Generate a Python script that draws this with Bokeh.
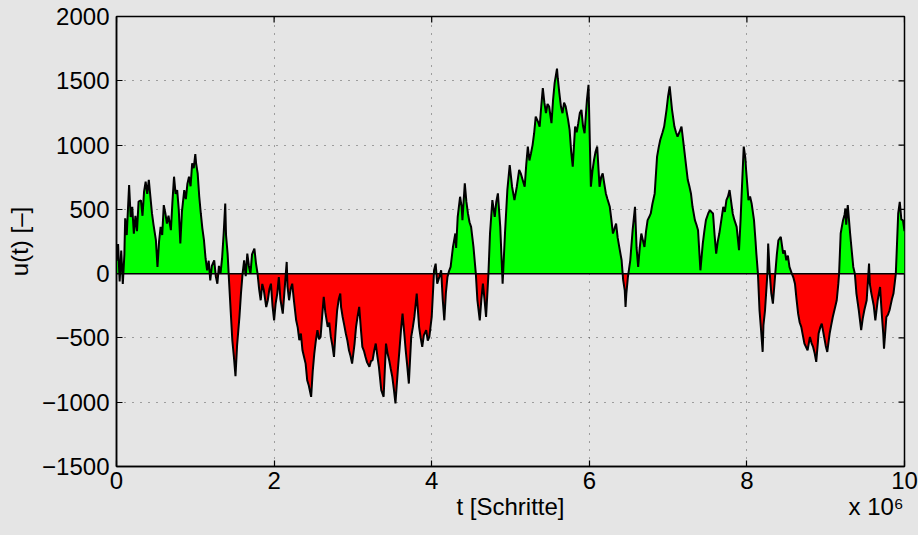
import numpy as np
from bokeh.plotting import figure
from bokeh.models import Range1d, FixedTicker, Span, LinearAxis
from bokeh.embed import file_html
from bokeh.resources import INLINE

# time in steps (x 10^6)
t_mio = [
    0.00, 0.02, 0.04, 0.06, 0.08, 0.10, 0.11, 0.13, 0.16, 0.18, 0.20, 0.22, 0.24, 0.26, 0.28, 0.31,
    0.33, 0.35, 0.37, 0.39, 0.41, 0.43, 0.45, 0.47, 0.50, 0.52, 0.54, 0.56, 0.58, 0.60, 0.62, 0.64,
    0.66, 0.69, 0.71, 0.73, 0.75, 0.77, 0.79, 0.81, 0.83, 0.86, 0.88, 0.90, 0.92, 0.94, 0.96, 0.98,
    1.00, 1.01, 1.03, 1.05, 1.07, 1.09, 1.11, 1.13, 1.15, 1.17, 1.19, 1.21, 1.24, 1.26, 1.28, 1.30,
    1.32, 1.34, 1.36, 1.38, 1.39, 1.41, 1.43, 1.45, 1.47, 1.49, 1.51, 1.53, 1.56, 1.58, 1.60, 1.62,
    1.64, 1.66, 1.68, 1.70, 1.72, 1.75, 1.77, 1.79, 1.81, 1.83, 1.85, 1.87, 1.90, 1.92, 1.94, 1.96,
    1.98, 2.00, 2.02, 2.04, 2.06, 2.08, 2.11, 2.13, 2.16, 2.17, 2.19, 2.21, 2.23, 2.25, 2.28, 2.30,
    2.32, 2.34, 2.36, 2.38, 2.40, 2.42, 2.44, 2.47, 2.49, 2.51, 2.53, 2.55, 2.57, 2.59, 2.61, 2.63,
    2.65, 2.68, 2.70, 2.72, 2.74, 2.76, 2.78, 2.80, 2.82, 2.84, 2.85, 2.87, 2.89, 2.91, 2.93, 2.95,
    2.97, 2.99, 3.02, 3.04, 3.06, 3.08, 3.10, 3.12, 3.14, 3.16, 3.18, 3.21, 3.23, 3.25, 3.27, 3.29,
    3.31, 3.33, 3.36, 3.39, 3.42, 3.44, 3.46, 3.48, 3.50, 3.52, 3.54, 3.57, 3.59, 3.61, 3.63, 3.65,
    3.67, 3.69, 3.71, 3.74, 3.76, 3.78, 3.81, 3.84, 3.86, 3.88, 3.90, 3.93, 3.95, 3.97, 4.00, 4.02,
    4.03, 4.05, 4.07, 4.10, 4.12, 4.14, 4.16, 4.18, 4.20, 4.22, 4.24, 4.27, 4.30, 4.31, 4.33, 4.36,
    4.38, 4.39, 4.42, 4.44, 4.46, 4.48, 4.50, 4.53, 4.56, 4.58, 4.61, 4.63, 4.65, 4.67, 4.69, 4.72,
    4.74, 4.77, 4.80, 4.82, 4.84, 4.87, 4.90, 4.93, 4.96, 4.99, 5.02, 5.05, 5.08, 5.11, 5.13, 5.18,
    5.20, 5.22, 5.24, 5.26, 5.28, 5.30, 5.32, 5.35, 5.37, 5.39, 5.41, 5.43, 5.45, 5.47, 5.49, 5.52,
    5.54, 5.56, 5.59, 5.60, 5.62, 5.64, 5.66, 5.68, 5.70, 5.73, 5.75, 5.77, 5.79, 5.82, 5.84, 5.86,
    5.88, 5.90, 5.92, 5.94, 5.97, 5.99, 6.02, 6.04, 6.06, 6.08, 6.10, 6.13, 6.15, 6.17, 6.19, 6.21,
    6.23, 6.26, 6.28, 6.30, 6.32, 6.34, 6.36, 6.38, 6.41, 6.43, 6.45, 6.46, 6.47, 6.49, 6.52, 6.55,
    6.58, 6.60, 6.62, 6.64, 6.66, 6.68, 6.70, 6.72, 6.74, 6.76, 6.78, 6.80, 6.83, 6.86, 6.88, 6.90,
    6.93, 6.95, 6.98, 7.00, 7.02, 7.05, 7.08, 7.10, 7.12, 7.15, 7.17, 7.19, 7.21, 7.23, 7.25, 7.27,
    7.29, 7.31, 7.34, 7.36, 7.38, 7.41, 7.44, 7.46, 7.48, 7.51, 7.53, 7.55, 7.57, 7.59, 7.61, 7.63,
    7.65, 7.70, 7.72, 7.74, 7.76, 7.78, 7.80, 7.82, 7.84, 7.87, 7.90, 7.92, 7.93, 7.95, 7.96, 7.98,
    7.99, 8.01, 8.02, 8.04, 8.06, 8.09, 8.11, 8.12, 8.14, 8.16, 8.18, 8.20, 8.21, 8.23, 8.26, 8.27,
    8.29, 8.31, 8.33, 8.36, 8.38, 8.40, 8.43, 8.46, 8.48, 8.50, 8.52, 8.54, 8.57, 8.59, 8.61, 8.63,
    8.65, 8.67, 8.69, 8.71, 8.73, 8.77, 8.80, 8.82, 8.84, 8.86, 8.88, 8.91, 8.93, 8.95, 8.98, 9.00,
    9.02, 9.05, 9.07, 9.09, 9.12, 9.14, 9.16, 9.17, 9.19, 9.22, 9.24, 9.25, 9.26, 9.28, 9.31, 9.33,
    9.35, 9.37, 9.39, 9.42, 9.45, 9.47, 9.49, 9.52, 9.55, 9.56, 9.58, 9.61, 9.63, 9.66, 9.69, 9.71,
    9.73, 9.74, 9.77, 9.79, 9.81, 9.84, 9.86, 9.89, 9.92, 9.94, 9.96, 9.98, 10.00,
]

# u(t) values
u_vals = [
    100, 230, -60, 180, -80, 150, 430, 300, 690, 440, 520, 310, 450, 330, 560, 570,
    450, 640, 715, 620, 730, 600, 470, 380, 260, 52, 250, 364, 300, 533, 470, 390,
    450, 338, 560, 754, 620, 650, 500, 234, 480, 650, 580, 700, 754, 680, 858, 820,
    930, 860, 780, 600, 468, 350, 260, 120, 26, 100, -52, 60, 104, -20, -78, 60,
    0, 120, 312, 546, 300, 156, -78, -300, -520, -648, -798, -560, -337, -150, 0, 104,
    -20, 156, 60, 0, 150, 195, 80, 0, -120, -207, -80, -130, -260, -207, -120, -78,
    -250, -363, -230, -155, -26, -200, -311, -150, 91, -100, -207, -120, -78, -200, -363, -420,
    -518, -466, -596, -648, -700, -829, -870, -958, -760, -622, -520, -440, -510, -492, -330, -181,
    -300, -414, -380, -492, -560, -648, -450, -285, -200, -155, -260, -337, -400, -466, -520, -596,
    -640, -699, -550, -414, -330, -259, -420, -570, -600, -648, -690, -725, -680, -673, -600, -544,
    -640, -725, -906, -958, -544, -620, -673, -740, -803, -900, -1010, -751, -600, -440, -311, -450,
    -596, -720, -855, -492, -420, -337, -155, -414, -500, -570, -480, -440, -520, -492, -337, -100,
    26, 78, -78, -20, 26, -200, -363, -150, -26, 20, 52, 208, 312, 200, 442, 598,
    520, 416, 702, 560, 468, 400, 364, 208, 0, -207, -363, -200, -78, -200, -337, 0,
    312, 572, 442, 560, 624, 364, -78, 312, 650, 845, 676, 572, 676, 806, 780, 676,
    850, 988, 880, 936, 1000, 1092, 1222, 1180, 1144, 1300, 1443, 1330, 1248, 1320, 1300, 1170,
    1350, 1482, 1594, 1520, 1404, 1300, 1248, 1330, 1300, 1200, 1118, 950, 832, 1144, 1100, 1170,
    1250, 1274, 1150, 1092, 1352, 1469, 676, 800, 884, 950, 988, 676, 750, 780, 700, 624,
    580, 520, 420, 312, 350, 390, 280, 208, 104, -50, -130, -259, -156, -26, 104, 338,
    520, 200, 52, 200, 312, 260, 208, 330, 416, 440, 468, 540, 624, 910, 980, 1040,
    1100, 1144, 1274, 1380, 1456, 1274, 1144, 1100, 1066, 1110, 1144, 1040, 936, 830, 728, 680,
    624, 520, 416, 380, 338, 26, 234, 330, 416, 470, 494, 480, 468, 300, 156, 250,
    312, 520, 480, 572, 600, 650, 560, 468, 420, 364, 182, 420, 572, 850, 988, 900,
    806, 650, 572, 600, 546, 416, 250, 156, 0, -285, -440, -609, -400, -285, 0, 234,
    0, -155, -233, 0, 150, 260, 286, 156, 180, 104, 140, 52, 0, -30, -78, -200,
    -311, -380, -414, -480, -544, -596, -492, -540, -570, -620, -686, -466, -420, -389, -492, -560,
    -609, -466, -400, -337, -260, -207, -80, 0, 312, 416, 460, 507, 380, 533, 312, 180,
    52, 0, -155, -285, -440, -350, -285, -207, 78, -80, -155, -250, -363, -207, -104, -300,
    -466, -583, -337, -320, -285, -200, -155, 0, 468, 559, 420, 416, 330,
]

x_ticks = [0, 2, 4, 6, 8, 10]
y_ticks = [-1500, -1000, -500, 0, 500, 1000, 1500, 2000]
y_tick_labels = ["\u22121500", "\u22121000", "\u2212500", "0", "500", "1000", "1500", "2000"]
x_title = "t [Schritte]"
y_title = "u(t) [\u2013]"
x_exponent = "x 10\u2076"

t = np.array(t_mio, dtype=float)
u = np.array(u_vals, dtype=float)

# insert zero crossings so the green/red areas meet on the axis
tt, uu = [t[0]], [u[0]]
for i in range(1, len(t)):
    if u[i - 1] * u[i] < 0:
        tc = t[i - 1] + (t[i] - t[i - 1]) * u[i - 1] / (u[i - 1] - u[i])
        tt.append(tc)
        uu.append(0.0)
    tt.append(t[i])
    uu.append(u[i])
tt = np.array(tt)
uu = np.array(uu)

BG = "#e5e5e5"
FONT = "Liberation Sans"
X0, X1 = 0, 10
Y0, Y1 = -1500, 2000

p = figure(width=918, height=535, x_range=Range1d(X0, X1), y_range=Range1d(Y0, Y1),
           output_backend="svg", toolbar_location=None,
           background_fill_color=BG, border_fill_color=BG,
           min_border_left=116, min_border_right=14, min_border_top=16, min_border_bottom=69)

p.outline_line_color = "black"
p.outline_line_width = 1.5

for ax in (p.xaxis[0], p.yaxis[0]):
    ax.major_tick_in = 6
    ax.major_tick_out = 0
    ax.minor_tick_line_color = None
    ax.axis_line_width = 1.5
    ax.major_tick_line_width = 1.2
    ax.major_label_text_font = FONT
    ax.major_label_text_font_size = "24px"
    ax.major_label_text_color = "black"
    ax.axis_label_text_font = FONT
    ax.axis_label_text_font_size = "24px"
    ax.axis_label_text_font_style = "normal"
    ax.axis_label_text_color = "black"

p.xaxis.ticker = FixedTicker(ticks=x_ticks)
p.yaxis.ticker = FixedTicker(ticks=y_ticks)
p.yaxis.major_label_overrides = {v: s for v, s in zip(y_ticks, y_tick_labels)}
p.yaxis.axis_label = y_title
p.xaxis.major_label_standoff = 5
p.yaxis.major_label_standoff = 7
p.yaxis.axis_label_standoff = 6

# second row under the x axis: axis title (centred) and the exponent (right)
title_pos = (X0 + X1) / 2
exp_pos = 9.64
row2 = LinearAxis(ticker=FixedTicker(ticks=[title_pos, exp_pos]),
                  major_label_overrides={title_pos: x_title, exp_pos: x_exponent},
                  axis_line_color=None, major_tick_line_color=None,
                  minor_tick_line_color=None, major_tick_in=0, major_tick_out=0,
                  major_label_standoff=1, major_label_text_font=FONT,
                  major_label_text_font_size="24px", major_label_text_color="black")
p.add_layout(row2, "below")

# dotted grid
for g in (p.xgrid[0], p.ygrid[0]):
    g.grid_line_color = "#333333"
    g.grid_line_dash = "1 7"
    g.grid_line_width = 1
    g.grid_line_alpha = 0.8
p.xgrid.ticker = FixedTicker(ticks=x_ticks)
p.ygrid.ticker = FixedTicker(ticks=y_ticks)

# box ticks on the top and right edges
p.ray(x=x_ticks, y=[Y1] * len(x_ticks), length=6, length_units="screen",
      angle=-np.pi / 2, line_color="black", line_width=1.2)
p.ray(x=[X1] * len(y_ticks), y=y_ticks, length=6, length_units="screen",
      angle=np.pi, line_color="black", line_width=1.2)

# filled areas and the walk
p.varea(x=tt, y1=0, y2=np.maximum(uu, 0), fill_color="#00ff00")
p.varea(x=tt, y1=np.minimum(uu, 0), y2=0, fill_color="#ff0000")
p.add_layout(Span(location=0, dimension="width", line_color="black", line_width=1.5))
p.line(t, u, line_color="black", line_width=2)

html = file_html(p, INLINE)
html = html.replace("</head>", "<style>body{background-color:#e5e5e5;}</style></head>", 1)
open("out.html", "w").write(html)
